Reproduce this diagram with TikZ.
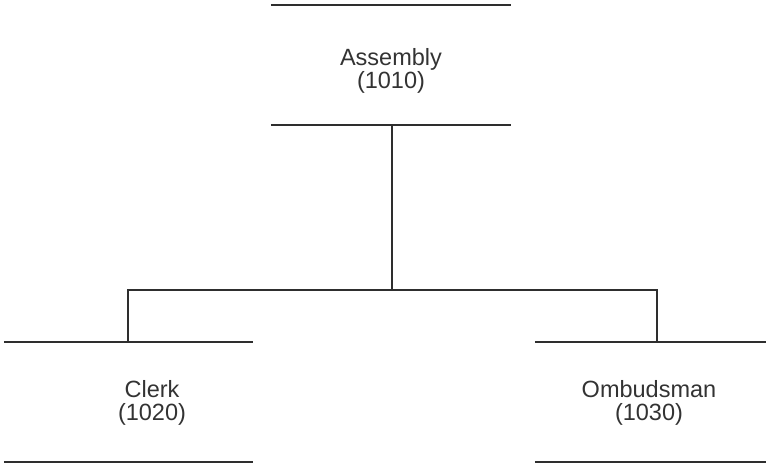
\documentclass[tikz,border=0pt]{standalone}
\usepackage{fontspec}
\setmainfont{Liberation Sans}
\begin{document}
\begin{tikzpicture}[x=1pt,y=-1pt,
  orgbox/.style={minimum width=#1, minimum height=120pt, inner sep=0pt,
    align=center, font=\fontsize{23.5}{23}\selectfont, text=black!80},
  rule/.style={draw=black!82, line width=2.2pt},
  conn/.style={draw=black!82, line width=2.2pt}]
\useasboundingbox (0,0) rectangle (766,467);
\node[orgbox=240pt] (top) at (391,71) {Assembly\\(1010)};
\node[orgbox=249pt] (left) at (152,403) {Clerk\\(1020)};
\node[orgbox=231pt] (right) at (649,403) {Ombudsman\\(1030)};
\draw[rule] ([yshift=6pt]top.north west) -- ([yshift=6pt]top.north east);
\draw[rule] ([yshift=6pt]top.south west) -- ([yshift=6pt]top.south east);
\draw[rule] ([shift={(-23.5pt,1pt)}]left.north west) -- ([shift={(-23.5pt,1pt)}]left.north east);
\draw[rule] ([shift={(-23.5pt,1pt)}]left.south west) -- ([shift={(-23.5pt,1pt)}]left.south east);
\draw[rule] ([shift={(1.5pt,1pt)}]right.north west) -- ([shift={(1.5pt,1pt)}]right.north east);
\draw[rule] ([shift={(1.5pt,1pt)}]right.south west) -- ([shift={(1.5pt,1pt)}]right.south east);
\coordinate (tb) at ([yshift=6pt]top.south);
\coordinate (j) at (392,290);
\coordinate (lj) at (128,343);
\coordinate (rj) at (657,343);
\draw[conn] (tb -| j) -- (j);
\draw[conn] (j) -| (lj);
\draw[conn] (j) -| (rj);
\end{tikzpicture}
\end{document}
